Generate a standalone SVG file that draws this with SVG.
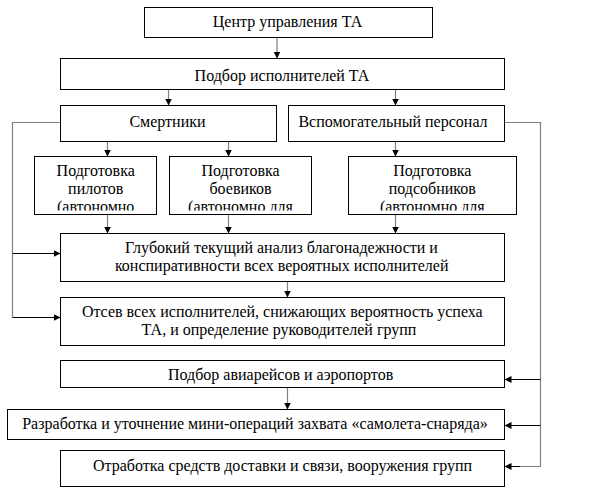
<svg xmlns="http://www.w3.org/2000/svg" width="601" height="491" viewBox="0 0 601 491">
<style>
.box{fill:#fff;stroke:#000;stroke-width:1}
.t{font-size:16px;fill:#000;text-anchor:middle}
.con{fill:none;stroke:#808080;stroke-width:1.2}
.stub{fill:none;stroke:#000;stroke-width:1}
</style>
<defs>
<marker id="ah" markerUnits="userSpaceOnUse" markerWidth="8" markerHeight="8" refX="7" refY="3.5" orient="auto">
<path d="M0,0 L7,3.5 L0,7 z" fill="#000"/>
</marker>
<clipPath id="c5"><rect x="34" y="156" width="123" height="54.5"/></clipPath>
<clipPath id="c6"><rect x="169" y="156" width="143" height="54.5"/></clipPath>
<clipPath id="c7"><rect x="348" y="156" width="169" height="54.5"/></clipPath>
</defs>
<rect width="601" height="491" fill="#fff"/>
<g id="connectors">
<line class="con" x1="277" y1="37.5" x2="277" y2="58.5" marker-end="url(#ah)"/>
<line class="con" x1="168.5" y1="89.5" x2="168.5" y2="105.5" marker-end="url(#ah)"/>
<line class="con" x1="395.5" y1="89.5" x2="395.5" y2="105.5" marker-end="url(#ah)"/>
<line class="con" x1="107.5" y1="141.5" x2="107.5" y2="156.5" marker-end="url(#ah)"/>
<line class="con" x1="228.5" y1="141.5" x2="228.5" y2="156.5" marker-end="url(#ah)"/>
<line class="con" x1="395.5" y1="141.5" x2="395.5" y2="156.5" marker-end="url(#ah)"/>
<line class="con" x1="107.5" y1="214.5" x2="107.5" y2="233.5" marker-end="url(#ah)"/>
<line class="con" x1="228.5" y1="214.5" x2="228.5" y2="233.5" marker-end="url(#ah)"/>
<line class="con" x1="395.5" y1="214.5" x2="395.5" y2="233.5" marker-end="url(#ah)"/>
<line class="con" x1="287.5" y1="281.5" x2="287.5" y2="297.5" marker-end="url(#ah)"/>
<line class="con" x1="287.5" y1="387.5" x2="287.5" y2="409.5" marker-end="url(#ah)"/>
<polyline class="con" points="60.5,122.5 12.5,122.5 12.5,317.5"/>
<line class="stub" x1="12.5" y1="317.5" x2="60.5" y2="317.5" marker-end="url(#ah)"/>
<line class="stub" x1="12.5" y1="253.5" x2="60.5" y2="253.5" marker-end="url(#ah)"/>
<polyline class="con" points="504.5,122.5 540.5,122.5 540.5,466.5 520,466.5"/>
<line class="stub" x1="520" y1="466.5" x2="504.5" y2="466.5" marker-end="url(#ah)"/>
<line class="stub" x1="540.5" y1="379.5" x2="504.5" y2="379.5" marker-end="url(#ah)"/>
<line class="stub" x1="540.5" y1="425.5" x2="504.5" y2="425.5" marker-end="url(#ah)"/>
</g>
<g id="n1"><rect class="box" x="144.5" y="7.5" width="288" height="30"/><text class="t" font-family="Liberation Serif" x="287.5" y="27">Центр управления ТА</text></g>
<g id="n2"><rect class="box" x="60.5" y="58.5" width="444" height="31"/><text class="t" font-family="Liberation Serif" x="282" y="81">Подбор исполнителей ТА</text></g>
<g id="n3"><rect class="box" x="60.5" y="105.5" width="216" height="36"/><text class="t" font-family="Liberation Serif" x="167.5" y="127">Смертники</text></g>
<g id="n4"><rect class="box" x="288.5" y="105.5" width="216" height="36"/><text class="t" font-family="Liberation Serif" x="393" y="127">Вспомогательный персонал</text></g>
<g id="n5"><rect class="box" x="34.5" y="156.5" width="122" height="58"/>
<g clip-path="url(#c5)"><text class="t" font-family="Liberation Serif" x="95.7" y="176">Подготовка</text><text class="t" font-family="Liberation Serif" x="95.7" y="194">пилотов</text><text class="t" font-family="Liberation Serif" x="95.7" y="212">(автономно</text></g></g>
<g id="n6"><rect class="box" x="169.5" y="156.5" width="142" height="58"/>
<g clip-path="url(#c6)"><text class="t" font-family="Liberation Serif" x="240.5" y="176">Подготовка</text><text class="t" font-family="Liberation Serif" x="240.5" y="194">боевиков</text><text class="t" font-family="Liberation Serif" x="240.5" y="212">(автономно для</text></g></g>
<g id="n7"><rect class="box" x="348.5" y="156.5" width="168" height="58"/>
<g clip-path="url(#c7)"><text class="t" font-family="Liberation Serif" x="432.3" y="176">Подготовка</text><text class="t" font-family="Liberation Serif" x="432.3" y="194">подсобников</text><text class="t" font-family="Liberation Serif" x="432.3" y="212">(автономно для</text></g></g>
<g id="n8"><rect class="box" x="60.5" y="233.5" width="444" height="48"/><text class="t" font-family="Liberation Serif" x="281.5" y="252.5">Глубокий текущий анализ благонадежности и</text><text class="t" font-family="Liberation Serif" x="281.7" y="270.5">конспиративности всех вероятных исполнителей</text></g>
<g id="n9"><rect class="box" x="60.5" y="297.5" width="444" height="48"/><text class="t" font-family="Liberation Serif" x="282.3" y="317">Отсев всех исполнителей, снижающих вероятность успеха</text><text class="t" font-family="Liberation Serif" x="279" y="335">ТА, и определение руководителей групп</text></g>
<g id="n10"><rect class="box" x="60.5" y="360.5" width="444" height="27"/><text class="t" font-family="Liberation Serif" x="280.6" y="380">Подбор авиарейсов и аэропортов</text></g>
<g id="n11"><rect class="box" x="7.5" y="409.5" width="497" height="30"/><text class="t" font-family="Liberation Serif" x="255" y="428.5">Разработка и уточнение мини-операций захвата «самолета-снаряда»</text></g>
<g id="n12"><rect class="box" x="60.5" y="450.5" width="444" height="36"/><text class="t" font-family="Liberation Serif" x="282.6" y="471">Отработка средств доставки и связи, вооружения групп</text></g>
</svg>
